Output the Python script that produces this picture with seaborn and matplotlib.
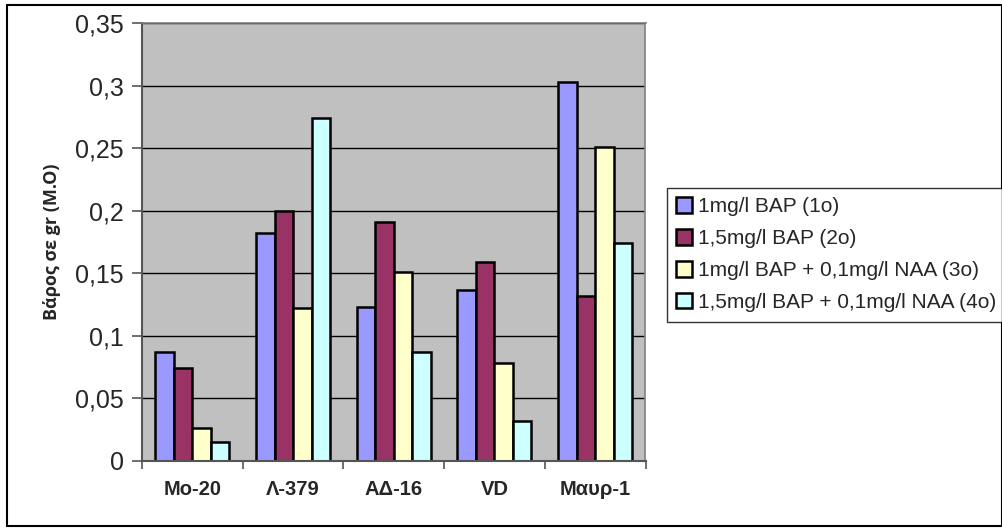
import matplotlib
matplotlib.use("Agg")
import matplotlib.pyplot as plt
import seaborn as sns
import pandas as pd
from matplotlib.patches import Rectangle, Patch
from matplotlib.ticker import FixedLocator

categories = ["Mo-20", "Λ-379", "ΑΔ-16", "VD", "Μαυρ-1"]
series_names = ["1mg/l BAP (1o)", "1,5mg/l BAP (2o)",
                "1mg/l BAP + 0,1mg/l NAA (3o)", "1,5mg/l BAP + 0,1mg/l NAA (4o)"]
s1 = [0.087, 0.182, 0.123, 0.137, 0.303]
s2 = [0.074, 0.200, 0.191, 0.159, 0.132]
s3 = [0.026, 0.122, 0.151, 0.078, 0.251]
s4 = [0.015, 0.274, 0.087, 0.032, 0.174]
yticks = [0, 0.05, 0.1, 0.15, 0.2, 0.25, 0.3, 0.35]
ytick_labels = ["0", "0,05", "0,1", "0,15", "0,2", "0,25", "0,3", "0,35"]
colors = ["#9999FF", "#993366", "#FFFFCC", "#CCFFFF"]
ylabel = "Βάρος σε gr (M.O)"

rows = []
for name, vals in zip(series_names, [s1, s2, s3, s4]):
    for c, v in zip(categories, vals):
        rows.append({"cat": c, "series": name, "val": v})
df = pd.DataFrame(rows)

sns.set_theme(style="white")
plt.rcParams['font.family'] = ['Liberation Sans', 'DejaVu Sans']

fig = plt.figure(figsize=(10.03, 5.28), dpi=100)
ax = fig.add_axes([142/1003, 1-461/528, (645.5-142)/1003, (461-23)/528])
ax.set_facecolor("#C0C0C0")

sns.barplot(data=df, x="cat", y="val", hue="series", order=categories,
            hue_order=series_names, palette=colors, width=0.735,
            edgecolor="black", linewidth=1.8, saturation=1, ax=ax, legend=False)

ax.set_ylim(0, 0.35)
ax.set_xlim(-0.5, len(categories) - 0.5)
ax.set_yticks(yticks)
ax.set_yticklabels(ytick_labels, fontsize=18)
ax.yaxis.grid(True, color="black", linewidth=1.0)
ax.set_axisbelow(True)
ax.tick_params(axis="y", which="major", direction="out", length=7, width=1.2,
               color="#555555", left=True, pad=6)
ax.tick_params(axis="x", which="major", length=0, pad=14)
ax.xaxis.set_minor_locator(FixedLocator([i - 0.5 for i in range(len(categories) + 1)]))
ax.tick_params(axis="x", which="minor", direction="out", length=6, width=1.2,
               color="#555555", bottom=True)
for lab in ax.get_xticklabels():
    lab.set_fontsize(14.5)
    lab.set_fontweight("bold")
ax.set_xlabel("")
ax.set_ylabel(ylabel, fontsize=13, fontweight="bold", family=["Open Sans", "DejaVu Sans"], labelpad=10)

for side in ["left", "bottom"]:
    ax.spines[side].set_color("#555555")
    ax.spines[side].set_linewidth(1.5)
for side in ["top", "right"]:
    ax.spines[side].set_color("#808080")
    ax.spines[side].set_linewidth(1.2)

handles = [Patch(facecolor=c, edgecolor="black", linewidth=1.8) for c in colors]
leg = fig.legend(handles, series_names, loc="upper left",
                 bbox_to_anchor=(667/1003, 1-188/528), fontsize=15,
                 frameon=True, fancybox=False, handlelength=0.75, handleheight=0.75,
                 handletextpad=0.3, labelspacing=0.62, borderpad=0.45, borderaxespad=0)
leg.get_frame().set_edgecolor("black")
leg.get_frame().set_linewidth(1.0)

fig.patches.append(Rectangle((7/1003, 1-526/528), (1002-7)/1003, (526-5)/528,
                             transform=fig.transFigure, fill=False,
                             edgecolor="black", linewidth=1.5))

fig.savefig("out.png", dpi=100)
